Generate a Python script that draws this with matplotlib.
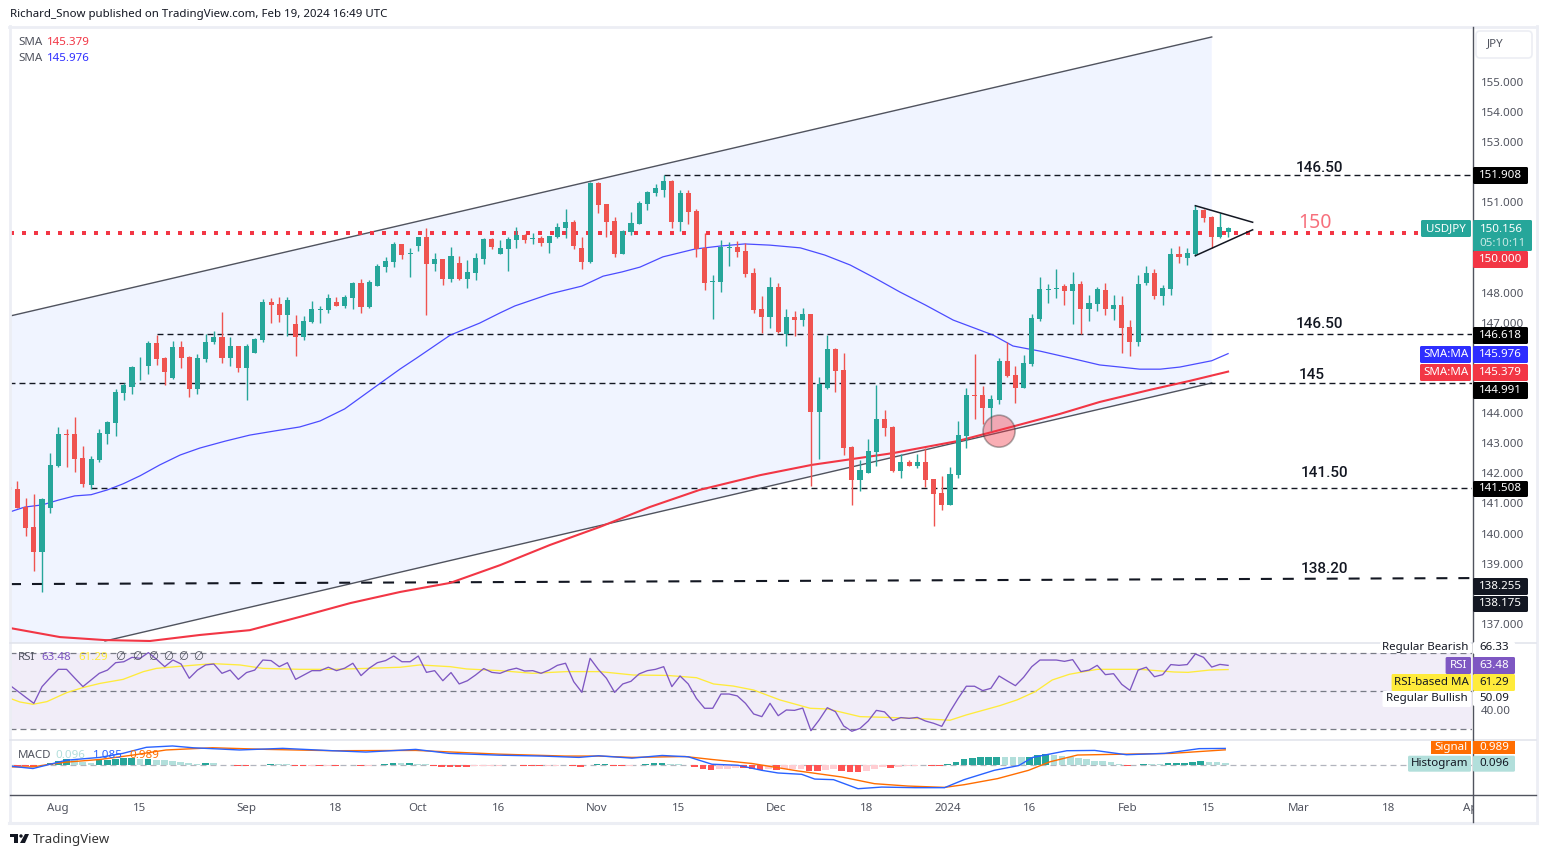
"""
USD/JPY daily candles with SMA, RSI and MACD panes
"""

import numpy as np
import matplotlib
matplotlib.use("Agg")
import matplotlib.pyplot as plt
from matplotlib.patches import Rectangle, Ellipse, Polygon, FancyBboxPatch

W, H = 1546, 857
plt.rcParams["font.family"] = ["Noto Sans", "DejaVu Sans"]
plt.rcParams["lines.scale_dashes"] = False

GREEN = "#26a69a"
RED = "#ef5350"
LINE_RED = "#f23645"
BLUE = "#2e2eff"
TXT = "#50535e"
FS = 8.3

opens = [141.56, 141.48, 140.88, 140.22, 139.39, 140.85, 142.24, 143.31, 143.31, 142.51,
         141.61, 142.44, 143.31, 143.67, 144.68, 144.88, 145.55, 145.55, 146.33, 145.83,
         145.17, 146.20, 145.87, 144.81, 145.81, 146.36, 146.53, 145.84, 146.23, 145.51,
         146.01, 146.43, 147.69, 147.63, 147.26, 146.96, 146.53, 147.03, 147.44, 147.43,
         147.69, 147.56, 147.83, 148.33, 147.53, 148.23, 148.86, 149.02, 149.62, 149.30,
         149.55, 149.85, 148.96, 149.12, 148.46, 148.99, 148.46, 148.66, 149.12, 149.79,
         149.29, 149.45, 149.75, 149.92, 149.78, 149.82, 149.65, 149.85, 150.15, 150.35,
         149.49, 149.02, 151.65, 150.95, 150.38, 149.29, 150.02, 150.29, 150.95, 151.32,
         151.41, 151.71, 150.35, 151.32, 150.72, 149.49, 148.37, 148.36, 149.50, 149.52,
         149.39, 148.66, 147.46, 147.20, 148.19, 146.63, 147.20, 147.09, 147.29, 144.04,
         144.85, 146.13, 145.43, 142.87, 141.78, 142.01, 142.71, 143.80, 143.54, 142.08,
         142.37, 142.24, 142.37, 141.81, 141.35, 140.95, 141.94, 143.24, 144.60, 144.60,
         144.17, 144.45, 145.73, 145.27, 144.83, 145.63, 147.13, 148.10, 148.12, 148.22,
         148.06, 148.29, 147.46, 147.62, 148.09, 147.46, 147.59, 146.86, 146.36, 148.32,
         148.65, 147.89, 148.12, 149.29, 149.15, 149.29, 150.75, 150.52, 149.85, 150.02]
highs = [141.56, 141.74, 141.18, 141.31, 141.18, 142.67, 143.54, 143.47, 143.87, 142.91,
         142.58, 143.47, 143.74, 144.80, 144.99, 145.57, 145.86, 146.39, 146.59, 145.86,
         146.39, 146.39, 145.90, 145.97, 146.63, 146.72, 147.36, 146.53, 146.23, 146.30,
         146.49, 147.79, 147.83, 147.86, 147.86, 147.26, 147.23, 147.73, 147.56, 147.96,
         147.86, 147.93, 148.36, 148.46, 148.42, 148.96, 149.19, 149.69, 149.62, 149.49,
         149.85, 150.15, 149.32, 149.12, 149.52, 149.22, 149.09, 149.32, 149.82, 149.82,
         149.75, 149.85, 150.18, 149.95, 149.99, 149.89, 149.89, 150.32, 150.78, 150.42,
         149.85, 151.68, 151.68, 150.95, 150.52, 150.09, 150.69, 151.05, 151.38, 151.61,
         151.91, 151.75, 151.41, 151.41, 150.78, 149.99, 148.59, 149.75, 149.69, 149.72,
         149.65, 148.82, 147.89, 148.52, 148.33, 147.46, 147.40, 147.49, 147.29, 145.20,
         146.59, 146.16, 146.00, 142.90, 142.44, 143.14, 144.93, 144.10, 143.57, 142.64,
         142.44, 142.64, 142.84, 141.81, 141.91, 142.21, 143.74, 144.83, 145.96, 144.90,
         144.60, 145.83, 146.36, 145.56, 145.93, 147.29, 148.52, 148.29, 148.79, 148.29,
         148.69, 148.39, 147.92, 148.19, 148.32, 147.92, 147.89, 147.10, 148.59, 148.89,
         148.79, 148.26, 149.49, 149.55, 149.49, 150.91, 150.78, 150.55, 150.65, 150.18]
lows = [141.45, 140.85, 139.92, 138.75, 138.06, 140.68, 142.21, 142.21, 142.04, 141.55,
        141.48, 142.38, 142.97, 143.24, 144.42, 144.65, 145.10, 145.31, 145.61, 144.95,
        145.14, 145.51, 144.54, 144.62, 145.71, 146.28, 145.68, 145.55, 145.35, 144.45,
        145.99, 146.37, 147.00, 147.03, 146.56, 145.90, 146.43, 147.00, 147.00, 147.33,
        147.56, 147.50, 147.46, 147.33, 147.50, 148.23, 148.69, 148.86, 149.12, 148.53,
        149.39, 147.26, 148.72, 148.26, 148.36, 148.42, 148.16, 148.42, 148.96, 149.45,
        149.29, 148.72, 149.49, 149.65, 149.62, 149.55, 149.32, 149.82, 149.82, 149.45,
        148.79, 148.99, 150.65, 149.85, 149.19, 149.29, 149.92, 150.29, 150.75, 151.22,
        151.18, 150.15, 150.05, 150.28, 149.19, 148.09, 147.13, 148.03, 148.89, 149.19,
        148.52, 147.33, 146.66, 146.83, 146.66, 146.23, 146.56, 146.89, 141.59, 142.47,
        144.80, 144.70, 142.61, 140.95, 141.41, 142.01, 142.24, 143.24, 142.04, 141.84,
        142.24, 142.18, 141.54, 140.25, 140.78, 140.95, 141.84, 142.84, 143.80, 143.64,
        143.41, 144.30, 145.20, 144.34, 144.83, 145.56, 147.06, 147.66, 147.82, 147.59,
        146.96, 146.63, 147.06, 147.39, 147.26, 147.09, 146.00, 145.90, 146.23, 148.26,
        147.79, 147.59, 147.92, 148.99, 148.92, 149.22, 150.35, 149.49, 149.82, 149.85]
closes = [141.45, 140.85, 140.18, 139.39, 141.15, 142.28, 143.31, 143.28, 142.48, 141.65,
          142.48, 143.34, 143.70, 144.70, 144.94, 145.53, 145.57, 146.33, 145.81, 145.35,
          146.20, 145.84, 144.81, 145.83, 146.36, 146.53, 145.84, 146.23, 145.51, 146.23,
          146.47, 147.69, 147.59, 147.26, 147.76, 146.53, 147.06, 147.46, 147.46, 147.83,
          147.56, 147.86, 148.33, 147.53, 148.36, 148.89, 149.06, 149.62, 149.26, 149.32,
          149.85, 148.96, 149.12, 148.46, 149.22, 148.46, 148.69, 149.16, 149.79, 149.52,
          149.49, 149.79, 149.92, 149.75, 149.82, 149.65, 149.89, 150.18, 150.35, 149.55,
          149.02, 151.65, 150.92, 150.35, 149.29, 150.05, 150.32, 150.98, 151.35, 151.48,
          151.71, 150.35, 151.32, 150.68, 149.45, 148.32, 148.39, 149.52, 149.52, 149.35,
          148.62, 147.43, 147.20, 148.19, 146.70, 147.20, 147.10, 147.29, 144.04, 144.97,
          146.13, 145.40, 142.84, 141.78, 142.11, 142.74, 143.80, 143.50, 142.08, 142.37,
          142.24, 142.37, 141.78, 141.31, 140.95, 141.98, 143.27, 144.60, 144.58, 144.17,
          144.47, 145.73, 145.23, 144.83, 145.66, 147.16, 148.12, 148.12, 148.14, 148.06,
          148.29, 147.46, 147.66, 148.12, 147.46, 147.59, 146.83, 146.36, 148.29, 148.65,
          147.89, 148.16, 149.29, 149.19, 149.32, 150.75, 150.48, 149.85, 150.18, 150.156]

sma50_bar = [0.1, 1.9, 4, 6, 8, 10, 12, 13.9, 16, 18.4, 20.9, 23.3, 26.4, 29.4, 32.5, 35.5, 38, 41,
             43.5, 45.9, 47.8, 49.8, 51.8, 53.9, 57.5, 60, 61.8, 66.1, 70, 72.6, 74.9, 77.1, 79.9,
             83.8, 86.9, 89.9, 93, 96.7, 99.7, 102.8, 105.8, 108.9, 112, 115.4, 120.3, 122.7, 126,
             129.7, 133.3, 135.8, 138.2, 140.7, 143.1, 147, 149]
sma50 = [140.72, 140.88, 140.95, 141.11, 141.25, 141.29, 141.45, 141.65, 141.92, 142.28, 142.61,
         142.84, 143.07, 143.27, 143.41, 143.54, 143.74, 144.14, 144.63, 145.10, 145.47, 145.83,
         146.20, 146.59, 146.99, 147.33, 147.56, 147.96, 148.22, 148.55, 148.69, 148.85, 149.19,
         149.45, 149.55, 149.62, 149.58, 149.49, 149.25, 148.92, 148.49, 148.02, 147.59, 147.09,
         146.59, 146.23, 146.06, 145.83, 145.60, 145.53, 145.46, 145.46, 145.53, 145.74, 145.976]
sma200_bar = [0.1, 6.2, 11.7, 17.2, 23.3, 29.4, 35.5, 41.7, 47.8, 53.9, 60, 66.1, 72.2, 78.3, 84.4,
              91.8, 98.1, 108, 115.9, 121.1, 128.4, 133.3, 139.4, 144.3, 149]
sma200 = [136.86, 136.56, 136.46, 136.43, 136.63, 136.79, 137.23, 137.69, 138.06, 138.36, 138.95,
          139.62, 140.22, 140.88, 141.45, 141.94, 142.28, 142.67, 143.07, 143.44, 143.97, 144.37,
          144.77, 145.07, 145.379]

rsi = [53.2, 50.0, 46.7, 43.5, 52.3, 57.0, 61.4, 61.4, 56.8, 52.3,
       55.8, 59.3, 61.0, 64.9, 65.4, 67.7, 67.2, 70.2, 66.7, 62.8,
       66.3, 64.2, 56.7, 61.0, 63.7, 64.2, 59.3, 61.0, 56.1, 59.7,
       61.0, 66.3, 66.0, 62.8, 64.9, 56.1, 58.4, 60.7, 60.7, 62.5,
       60.7, 62.0, 64.6, 58.1, 62.0, 64.9, 66.0, 68.4, 65.4, 65.4,
       68.4, 59.8, 60.7, 55.4, 59.7, 53.7, 55.4, 58.4, 61.8, 59.8,
       59.3, 61.0, 62.0, 60.5, 60.7, 59.3, 61.0, 63.5, 64.6, 54.9,
       49.3, 67.2, 61.4, 56.7, 49.3, 53.7, 55.1, 59.0, 60.7, 61.4,
       62.8, 52.3, 57.9, 53.7, 46.1, 40.9, 40.9, 48.4, 48.4, 47.4,
       43.5, 37.9, 36.5, 43.5, 37.0, 40.0, 39.8, 41.0, 29.1, 34.7,
       41.2, 39.1, 31.6, 28.8, 30.3, 34.2, 39.8, 39.0, 34.4, 36.0,
       35.6, 36.1, 34.2, 33.0, 31.4, 39.1, 46.1, 52.5, 52.5, 50.2,
       51.4, 57.9, 55.3, 52.8, 57.2, 62.8, 66.3, 66.3, 66.3, 65.6,
       66.5, 60.2, 61.0, 63.5, 58.6, 59.1, 53.5, 50.3, 61.0, 62.5,
       57.5, 58.6, 63.9, 63.5, 63.9, 69.5, 67.7, 62.6, 64.0, 63.48]
rsi_ma_bar = [0.1, 1.3, 2.9, 4.6, 7, 9, 11.1, 13.9, 16.4, 18, 20.9, 24.9, 28.2, 31, 35.5, 39.6, 43.7,
              47.8, 50.2, 53.9, 55.9, 60, 64, 68.1, 72.2, 76.3, 80.4, 84, 86.1, 88.5, 91, 94.2,
              97.9, 100.1, 104, 108.1, 112.1, 115, 117, 121.1, 123.2, 125.4, 127.5, 129.6, 133,
              138.2, 142.4, 144.1, 146.7, 149]
rsi_ma = [46.1, 44.2, 43.0, 44.4, 49.1, 51.8, 54.0, 56.1, 60.2, 61.9, 63.0, 64.4, 63.7, 61.9, 61.4,
          61.4, 61.9, 62.5, 63.7, 62.8, 61.6, 60.7, 59.3, 60.2, 60.2, 58.4, 58.2, 57.0, 53.7, 52.6,
          50.5, 45.3, 40.9, 40.5, 36.5, 36.0, 35.3, 34.6, 37.4, 42.3, 45.3, 49.6, 55.8, 58.8, 61.4,
          61.4, 60.0, 59.8, 61.0, 61.29]

macd_bar = [0.1, 2.9, 5, 7, 11.1, 13.9, 16.8, 20, 22.5, 28.2, 33.5, 39.6, 43.7, 49.8, 53.9, 60, 65.3,
            69.8, 72.2, 76.3, 80, 83.2, 86.1, 89.3, 92.2, 94.2, 97.1, 98.7, 101, 104, 106.9, 111,
            114.6, 117, 120.7, 123.7, 125.4, 129.6, 133, 136.9, 141.6, 145.8, 149]
macd = [-0.11, -0.27, 0.02, 0.29, 0.48, 0.75, 1.16, 1.25, 1.13, 0.98, 1.09, 0.93, 0.84, 1.02, 0.75,
        0.63, 0.57, 0.48, 0.59, 0.43, 0.61, 0.52, 0.02, -0.05, -0.39, -0.57, -0.66, -0.98, -1.02,
        -1.63, -1.52, -1.56, -1.56, -1.02, -0.39, -0.07, 0.48, 0.93, 0.95, 0.66, 0.75, 1.07, 1.085]
signal_bar = [0.1, 2.9, 5, 7, 11.1, 15.2, 19.2, 24.9, 31.5, 39.6, 49.8, 60, 68.1, 72.2, 76.3, 82.8,
              86.1, 91, 96.6, 102, 106, 110.1, 114.6, 117, 121.1, 124.9, 127.5, 130.9, 136.9, 142.4, 149]
signal = [-0.16, -0.16, 0.02, 0.16, 0.34, 0.64, 0.98, 1.13, 1.02, 0.93, 0.95, 0.70, 0.57, 0.57, 0.48,
          0.54, 0.34, 0.07, -0.43, -0.84, -1.29, -1.45, -1.54, -1.36, -0.95, -0.39, 0.18, 0.64, 0.70,
          0.75, 0.989]
hist = [-0.05, -0.07, -0.11, -0.14, -0.02, 0.09, 0.23, 0.34, 0.32, 0.14,
        0.11, 0.30, 0.32, 0.36, 0.41, 0.42, 0.36, 0.38, 0.32, 0.30,
        0.27, 0.20, 0.07, 0.06, 0.09, 0.07, -0.02, -0.03, -0.11, -0.12,
        -0.05, -0.02, 0.05, 0.03, 0.02, -0.11, -0.12, -0.09, -0.11, -0.10,
        -0.12, -0.05, -0.04, -0.09, -0.07, -0.02, 0.02, 0.09, 0.07, 0.08,
        0.05, 0.01, -0.09, -0.14, -0.15, -0.16, -0.17, -0.12, -0.10, -0.08,
        -0.07, -0.05, -0.03, -0.09, -0.10, -0.11, -0.09, -0.07, -0.05, -0.09,
        -0.16, -0.05, 0.02, 0.03, -0.09, -0.10, -0.07, -0.05, 0.02, 0.09,
        0.10, 0.02, 0.018, -0.02, -0.16, -0.30, -0.36, -0.30, -0.28, -0.23,
        -0.25, -0.32, -0.36, -0.27, -0.34, -0.30, -0.28, -0.27, -0.45, -0.46,
        -0.34, -0.27, -0.45, -0.50, -0.51, -0.43, -0.30, -0.20, -0.23, -0.14,
        -0.11, -0.07, -0.05, -0.09, -0.10, 0.02, 0.18, 0.34, 0.41, 0.48,
        0.49, 0.54, 0.51, 0.50, 0.49, 0.54, 0.64, 0.68, 0.64, 0.59,
        0.54, 0.45, 0.36, 0.27, 0.23, 0.16, 0.05, -0.11, -0.05, 0.05,
        0.04, 0.03, 0.08, 0.09, 0.10, 0.16, 0.23, 0.16, 0.15, 0.096]

price_ticks = [155, 154, 153, 151, 148, 147, 144, 143, 142, 141, 140, 139, 137]
date_bars = [6, 16, 29, 40, 50, 60, 72, 82, 94, 105, 115, 125, 137, 147, 158, 169, 179.3]
date_labels = ["Aug", "15", "Sep", "18", "Oct", "16", "Nov", "15", "Dec", "18", "2024", "16",
               "Feb", "15", "Mar", "18", "Apr"]

channel_up_bar, channel_up = [0.09, 147], [147.226, 156.495]
channel_low_bar, channel_low = [0.09, 11.7, 147], [135.69, 136.43, 145.0]
wedge_bar = [145, 152]
wedge_up = [150.89, 150.34]
wedge_low = [149.23, 150.09]
level_lines = [(80, 151.908), (18, 146.618), (0, 144.991), (10, 141.508)]
fib_bar, fib = [0.09, 178.8], [138.32, 138.52]
notes = [(160.2, 152.14, "146.50"), (160.2, 146.97, "146.50"), (159.2, 145.25, "145"),
         (160.8, 142.0, "141.50"), (160.8, 138.83, "138.20")]


def px_axes(left, top, right, bottom):
    return fig.add_axes([left / W, 1 - bottom / H, (right - left) / W, (bottom - top) / H])


fig = plt.figure(figsize=(W / 100, H / 100), dpi=100, facecolor="white")
x_lim = (0.085, 178.88)
ax = px_axes(10, 27.5, 1472.5, 642.5)
ax_rsi = px_axes(10, 643, 1472.5, 740)
ax_macd = px_axes(10, 741, 1472.5, 794.5)
ov = fig.add_axes([0, 0, 1, 1], zorder=10)
ov.set_xlim(0, W)
ov.set_ylim(H, 0)
ov.axis("off")
ov.patch.set_alpha(0)

for a in (ax, ax_rsi, ax_macd):
    a.set_xlim(*x_lim)
    for s in a.spines.values():
        s.set_visible(False)
    a.patch.set_alpha(0)
    a.tick_params(length=0, labelsize=FS, labelcolor=TXT)
    a.yaxis.tick_right()
    a.set_xticks([])

# main pane
bars = np.arange(len(closes))
ax.set_ylim(136.38, 156.81)
ax.set_yticks(price_ticks)
ax.set_yticklabels([f"{p:.3f}" for p in price_ticks])
ax.tick_params(axis="y", pad=6)

ax.add_patch(Polygon([(channel_up_bar[0], channel_up[0]), (channel_up_bar[1], channel_up[1]),
                      (channel_low_bar[2], channel_low[2]), (channel_low_bar[1], channel_low[1]),
                      (channel_low_bar[0], channel_low[0])],
                     facecolor="#f0f4ff", edgecolor="none", zorder=1))
ax.plot(channel_up_bar, channel_up, color="#50535e", lw=1.0, zorder=2)
ax.plot(channel_low_bar[1:], channel_low[1:], color="#50535e", lw=1.0, zorder=2)

ax.plot([x_lim[0], 172.5], [150, 150], color=LINE_RED, lw=2.88, ls=(0, (2.88, 5.76)), zorder=3)
for start, level in level_lines:
    ax.plot([start, x_lim[1]], [level, level], color="#131722", lw=1.0, ls=(0, (4.3, 2.9)), zorder=3)
ax.plot(fib_bar, fib, color="#131722", lw=1.5, ls=(0, (7.9, 7.9)), zorder=3)

ax.plot(sma50_bar, sma50, color=BLUE, lw=0.9, alpha=0.85, zorder=4)
ax.plot(sma200_bar, sma200, color=LINE_RED, lw=1.5, zorder=4)

colors = [GREEN if c >= o else RED for o, c in zip(opens, closes)]
ax.vlines(bars, lows, highs, colors=colors, lw=1.0, zorder=5)
ax.bar(bars, np.abs(np.array(closes) - np.array(opens)), bottom=np.minimum(opens, closes),
       width=0.62, color=colors, zorder=5)

ax.plot(wedge_bar, wedge_up, color="#131722", lw=1.1, zorder=6)
ax.plot(wedge_bar, wedge_low, color="#131722", lw=1.1, zorder=6)

ax.add_patch(Ellipse((121.0, 143.4), 3.91, 1.063, facecolor=LINE_RED, alpha=0.4,
                     edgecolor="#333333", lw=1.2, zorder=7))

for bar, price, note in notes:
    ax.text(bar, price, note, ha="center", va="center", fontsize=11, color="#131722",
            family="Roboto", fontweight="medium", zorder=8)
ax.text(159.6, 150.33, "150", ha="center", va="center", fontsize=14, color="#f7707c", zorder=8)

# RSI pane
ax_rsi.set_ylim(24.2, 75.26)
ax_rsi.axhspan(30, 70, color="#7e57c2", alpha=0.1, lw=0, zorder=1)
for level in (70, 50, 30):
    ax_rsi.axhline(level, color="#787b86", lw=0.9, ls=(0, (4.3, 2.9)), zorder=2)
ax_rsi.plot(rsi_ma_bar, rsi_ma, color="#ffeb3b", lw=0.95, zorder=3)
ax_rsi.plot(bars, rsi, color="#7e57c2", lw=0.95, zorder=4)
ax_rsi.set_yticks([40])
ax_rsi.set_yticklabels(["40.00"])
ax_rsi.tick_params(axis="y", pad=6)

# MACD pane
ax_macd.set_ylim(-2.02, 1.585)
hist_colors = []
for i, h in enumerate(hist):
    prev = hist[i - 1] if i else h
    if h >= 0:
        hist_colors.append(GREEN if h > prev else "#b2dfdb")
    else:
        hist_colors.append("#ff5252" if h < prev else "#ffcdd2")
ax_macd.axhline(0, color="#b2b5be", lw=0.9, ls=(0, (4.3, 2.9)), zorder=1)
ax_macd.bar(bars, hist, width=0.82, color=hist_colors, zorder=2)
ax_macd.plot(signal_bar, signal, color="#ff6d00", lw=1.0, zorder=3)
ax_macd.plot(macd_bar, macd, color="#2962ff", lw=1.0, zorder=3)
ax_macd.set_xticks(date_bars)
ax_macd.set_xticklabels(date_labels)
ax_macd.tick_params(axis="x", pad=6)
for lbl in ax_macd.get_xticklabels():
    if lbl.get_text() == "2024":
        lbl.set_fontweight("bold")
ax_macd.set_yticks([])

# frame and separators
ov.add_patch(Rectangle((1473, 796), 62, 26, facecolor="white", edgecolor="none", zorder=1))
frame = "#eceef4"
ov.plot([9.5, 9.5], [26, 823], color=frame, lw=2)
ov.plot([9, 1537], [26.5, 26.5], color=frame, lw=2)
ov.plot([1536.5, 1536.5], [26, 823], color=frame, lw=2)
ov.plot([9, 1537], [823, 823], color=frame, lw=2.2)
ov.plot([10, 1536], [642.7, 642.7], color="#e0e3eb", lw=1.1)
ov.plot([10, 1536], [740.3, 740.3], color="#e0e3eb", lw=1.1)
ov.plot([10, 1536], [794.5, 794.5], color="#50535e", lw=1.0)
ov.plot([1472.5, 1472.5], [27, 822], color="#50535e", lw=1.0)


def box(x0, x1, y0, y1, color, text="", tc="white", weight="normal", tx=None, round_it=True):
    if round_it:
        ov.add_patch(FancyBboxPatch((x0 + 1, y0 + 1), x1 - x0 - 2, y1 - y0 - 2,
                                    boxstyle="round,pad=1,rounding_size=1.5",
                                    facecolor=color, edgecolor="none", zorder=3))
    else:
        ov.add_patch(Rectangle((x0, y0), x1 - x0, y1 - y0, facecolor=color, edgecolor="none", zorder=3))
    if text:
        ov.text(tx if tx else (x0 + x1) / 2, (y0 + y1) / 2 - 0.3, text, ha="center", va="center",
                color=tc, fontsize=FS, fontweight=weight, zorder=4)


box(1473, 1528, 167, 184, "#000000", "151.908", weight="semibold")
box(1421, 1471, 220, 237, GREEN, "USDJPY", weight="medium")
box(1473, 1532, 220, 251, GREEN)
ov.text(1501, 229, "150.156", ha="center", va="center", color="white", fontsize=FS,
        fontweight="semibold", zorder=4)
ov.text(1502, 243, "05:10:11", ha="center", va="center", color="#c8e9e5", fontsize=FS, zorder=4)
box(1473, 1528, 251, 268, LINE_RED, "150.000", weight="semibold")
box(1473, 1528, 327, 344, "#000000", "146.618", weight="semibold")
box(1420, 1471, 346, 363, BLUE, "SMA:MA", weight="medium")
box(1473, 1528, 346, 363, BLUE, "145.976", weight="semibold")
box(1420, 1471, 364, 381, LINE_RED, "SMA:MA", weight="medium")
box(1473, 1528, 364, 381, LINE_RED, "145.379", weight="semibold")
box(1473, 1528, 382, 399, "#000000", "144.991", weight="semibold")
box(1473, 1528, 578, 595, "#131722", "138.255", weight="semibold")
box(1473, 1528, 596, 612, "#131722", "138.175", weight="semibold")
box(1473, 1528, 481, 497, "#000000", "141.508", weight="semibold")

box(1380, 1471, 642, 653, "white", "Regular Bearish", tc="#131722")
box(1473, 1515, 642, 654, "white", "66.33", tc="#131722")
box(1445.6, 1471, 657, 674, "#7e57c2", "RSI", weight="semibold")
box(1473, 1515, 657, 674, "#7e57c2", "63.48", weight="semibold")
box(1391.6, 1471, 674, 691, "#ffeb3b", "RSI-based MA", tc="#131722")
box(1473, 1515, 674, 691, "#ffeb3b", "61.29", tc="#131722")
box(1382.5, 1471, 691, 707, "white", "Regular Bullish", tc="#131722")
box(1473, 1515, 691, 706, "white", "50.09", tc="#131722")
box(1430.6, 1471, 741, 754, "#ff6d00", "Signal", weight="semibold", round_it=False)
box(1473, 1515, 741, 754, "#ff6d00", "0.989", weight="semibold", round_it=False)
box(1408, 1471, 755.7, 771.7, "#b2dfdb", "Histogram", tc="#131722")
box(1473, 1515, 755.7, 771.7, "#b2dfdb", "0.096", tc="#131722")

# currency button
ov.add_patch(FancyBboxPatch((1478, 33), 52, 23, boxstyle="round,pad=2,rounding_size=4",
                            facecolor="white", edgecolor="#eceef4", lw=1.2, zorder=3))
ov.text(1495, 44, "JPY", ha="center", va="center", color=TXT, fontsize=FS, zorder=4)


def legend(x, y, text, color):
    ov.text(x, y, text, ha="left", va="center", color=color, fontsize=FS, zorder=4)


legend(18, 42, "SMA", TXT)
legend(47, 42, "145.379", LINE_RED)
legend(18, 58.5, "SMA", TXT)
legend(47, 58.5, "145.976", BLUE)
legend(18, 657, "RSI", TXT)
legend(41, 657, "63.48", "#7e57c2")
legend(78, 657, "61.29", "#ffeb3b")
for x in (117, 134, 150, 165, 180, 195):
    legend(x - 2, 657, "\u2205", TXT)
legend(18, 755.5, "MACD", TXT)
legend(55, 755.5, "0.096", "#b2dfdb")
legend(93, 755.5, "1.085", "#2962ff")
legend(129, 755.5, "0.989", "#ff6d00")

ov.text(10, 14.5, "Richard_Snow published on TradingView.com, Feb 19, 2024 16:49 UTC",
        ha="left", va="center", color="#131722", fontsize=8.25)

# logo and wordmark
ov.add_patch(Rectangle((10, 834), 8, 3, facecolor="#131722", edgecolor="none"))
ov.add_patch(Rectangle((14, 834), 4, 9, facecolor="#131722", edgecolor="none"))
ov.add_patch(Ellipse((21, 836), 3.4, 3.4, facecolor="#131722", edgecolor="none"))
ov.add_patch(Polygon([(25, 834), (29, 834), (25, 843), (20, 843)], facecolor="#131722", edgecolor="none"))
ov.text(33, 839.5, "TradingView", ha="left", va="center", color="#333333", fontsize=9.5)

fig.savefig("out.png", dpi=100)
